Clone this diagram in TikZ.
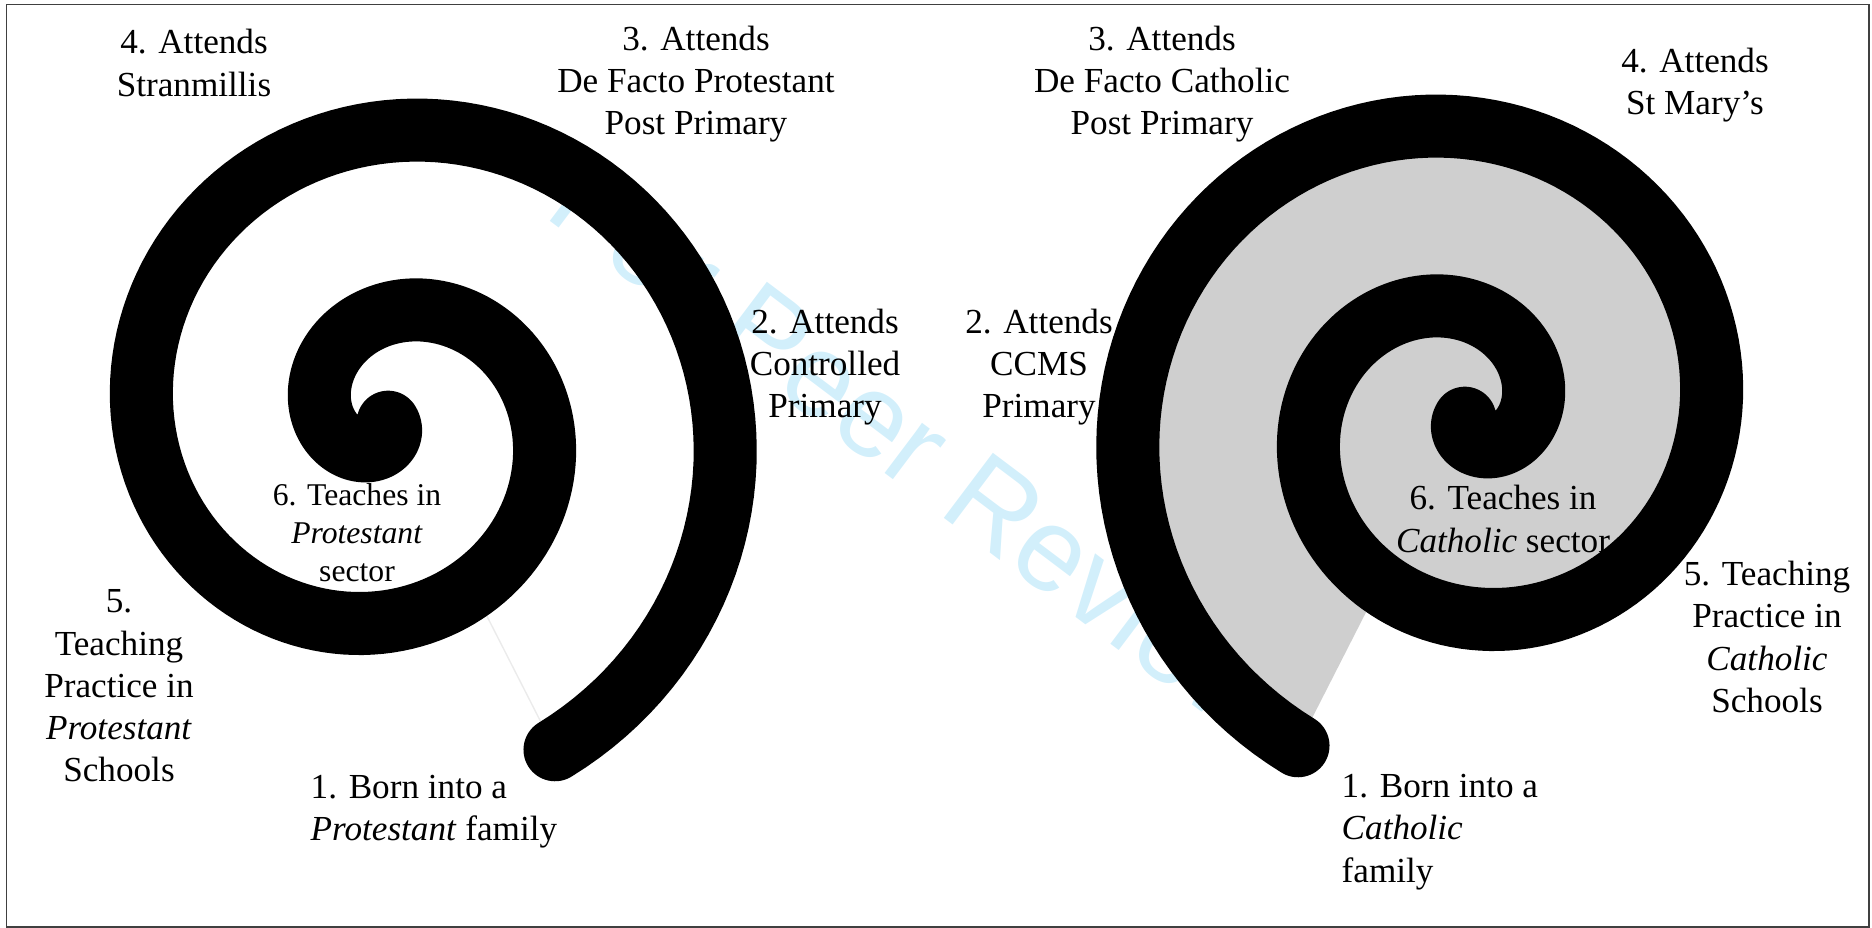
\documentclass[tikz,border=0pt]{standalone}
\usepackage{fontspec}
\setmainfont{Liberation Serif}
\newfontfamily\wmfont{Liberation Sans}
\usepackage{tikz}

\definecolor{wmblue}{RGB}{210,239,251}
\definecolor{cathgray}{RGB}{207,207,207}

\begin{document}
\begin{tikzpicture}[x=0.01cm, y=0.01cm,
        spiral/.style={draw=black, line width=0.63cm, line cap=round, line join=round},
        stage/.style={align=center, inner sep=0pt, font=\fontsize{10}{12}\selectfont},
        stagesmall/.style={align=center, inner sep=0pt, font=\fontsize{9}{10.8}\selectfont},
        frame/.style={draw=black!75, line width=0.37pt},
        watermark/.style={text=wmblue, inner sep=0pt, font=\wmfont\fontsize{33.7}{33.7}\selectfont},
        declare function={sprad(\t)=336-0.5056*\t;}
    ]
        \useasboundingbox (0,0) rectangle (1872,928);
        % Frame
        \draw[frame] (6.5,1) rectangle (1869,923.3);

        % Watermark
        \node[watermark, rotate=-37] (wm) at (920,481) {For Peer Review};

        % Centres
        \coordinate (pcentre) at (388,506);
        \coordinate (ccentre) at (1465,510);

        % Protestant spiral
        \begin{scope}[shift={(pcentre)}]
            \draw[black!8, line width=0.4pt] ({sprad(297)*cos(297)},{sprad(297)*sin(297)}) -- ({sprad(-63)*cos(-63)},{sprad(-63)*sin(-63)});
            \draw[spiral] plot[domain=-63:664, samples=300, variable=\t] ({sprad(\t)*cos(\t)},{sprad(\t)*sin(\t)});
        \end{scope}

        % Catholic spiral
        \begin{scope}[shift={(ccentre)}, xscale=-1]
            \fill[cathgray] plot[domain=-63:297, samples=200, variable=\t] ({sprad(\t)*cos(\t)},{sprad(\t)*sin(\t)}) -- cycle;
            \draw[spiral] plot[domain=-63:664, samples=300, variable=\t] ({sprad(\t)*cos(\t)},{sprad(\t)*sin(\t)});
        \end{scope}

        % Protestant stages
        \node[stage] (p4) at (194,865) {4. Attends\\Stranmillis};
        \node[stage] (p3) at (696,844) {3. Attends\\De Facto Protestant\\Post Primary};
        \node[stage] (p2) at (825,561) {2. Attends\\Controlled\\Primary};
        \node[stagesmall] (p6) at (357,395) {6. Teaches in\\\emph{Protestant}\\sector};
        \node[stage] (p5) at (119,242) {5.\\Teaching\\Practice in\\\emph{Protestant}\\Schools};
        \node[stage, align=left, anchor=west] (p1) at (310,116) {1. Born into a\\\emph{Protestant} family};

        % Catholic stages
        \node[stage] (c3) at (1162,844) {3. Attends\\De Facto Catholic\\Post Primary};
        \node[stage] (c4) at (1695,843) {4. Attends\\St Mary’s};
        \node[stage] (c2) at (1039,561) {2. Attends\\CCMS\\Primary};
        \node[stage] (c6) at (1503,409) {6. Teaches in\\\emph{Catholic} sector};
        \node[stage] (c5) at (1767,291) {5. Teaching\\Practice in\\\emph{Catholic}\\Schools};
        \node[stage, align=left, anchor=west] (c1) at (1341,96) {1. Born into a\\\emph{Catholic}\\family};
    \end{tikzpicture}
\end{document}
